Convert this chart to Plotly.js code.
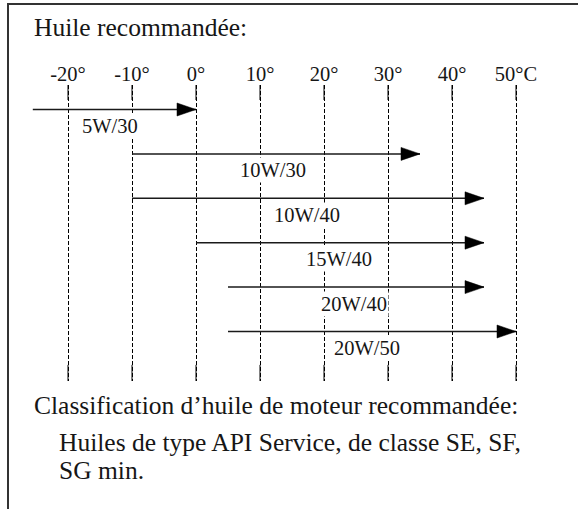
<!DOCTYPE html>
<html>
<head>
<meta charset="utf-8">
<script src="https://cdn.plot.ly/plotly-3.0.1.min.js"></script>
<style>html,body{margin:0;padding:0;background:#fff;}#chart{width:578px;height:509px;}</style>
</head>
<body>
<div id="chart"></div>
<script>
// ---- data ----
const tempTicks = [-20, -10, 0, 10, 20, 30, 40, 50];
const tickLabels = ['-20°', '-10°', '0°', '10°', '20°', '30°', '40°', '50°C'];
const grades = ['5W/30', '10W/30', '10W/40', '15W/40', '20W/40', '20W/50'];
const tempFrom = [-25.5, -10, -10, 0, 5, 5];
const tempTo = [0, 35, 45, 45, 45, 50];
const labelAt = [-13.4, 12, 17.3, 22.3, 24.7, 26.7];
const titleText = 'Huile recommandée:';
const noteLines = [
  'Classification d’huile de moteur recommandée:',
  'Huiles de type API Service, de classe SE, SF,',
  'SG min.'
];

// ---- layout helpers ----
const W = 578, H = 509;
const plotTop = 85, plotBottom = 381;
const rowTop = -0.552, rowBottom = 6.115;
const serif = 'Liberation Serif';
const ink = '#161616';
const py = p => (plotBottom - p) / (plotBottom - plotTop); // pixel -> paper y

const xs = [], ys = [];
grades.forEach((g, i) => { xs.push(tempFrom[i], tempTo[i], null); ys.push(i, i, null); });

const traces = [{
  type: 'scatter', mode: 'lines', x: xs, y: ys,
  line: {color: '#1a1a1a', width: 1.5}, hoverinfo: 'skip', showlegend: false
}];

const shapes = [];
// arrowheads
grades.forEach((g, i) => {
  shapes.push({
    type: 'path', xref: 'x', yref: 'y', xsizemode: 'pixel', ysizemode: 'pixel',
    xanchor: tempTo[i], yanchor: i,
    path: 'M0,0 L-19,6.5 L-19,-6.5 Z',
    fillcolor: '#000', line: {color: '#000', width: 0.5}
  });
});
// solid ends of the gridlines
tempTicks.forEach(t => {
  shapes.push({type: 'line', xref: 'x', yref: 'y', x0: t, x1: t, y0: rowTop, y1: -0.214, line: {color: '#000', width: 1}, layer: 'below'});
  shapes.push({type: 'line', xref: 'x', yref: 'y', x0: t, x1: t, y0: 5.752, y1: rowBottom, line: {color: '#000', width: 1}, layer: 'below'});
});
// frame (top and left)
shapes.push({type: 'line', xref: 'paper', yref: 'paper', x0: 8 / W, x1: 1.01, y0: py(4), y1: py(4), line: {color: '#333', width: 2}});
shapes.push({type: 'line', xref: 'paper', yref: 'paper', x0: 8 / W, x1: 8 / W, y0: py(3), y1: py(512), line: {color: '#333', width: 2}});

const annotations = grades.map((g, i) => ({
  x: labelAt[i], y: i + 0.37, xref: 'x', yref: 'y', text: g, showarrow: false,
  font: {family: serif, size: 20.5, color: ink}, bgcolor: '#fff', borderpad: 1,
  xanchor: 'center', yanchor: 'middle'
}));
const noteY = [405, 442, 470];
const noteX = [32, 57, 57];
noteLines.forEach((t, i) => annotations.push({
  x: noteX[i] / W, y: py(noteY[i]), xref: 'paper', yref: 'paper', text: t, showarrow: false,
  font: {family: serif, size: 25.5, color: ink}, xanchor: 'left', yanchor: 'middle', align: 'left'
}));

const layout = {
  width: W, height: H,
  font: {family: serif, color: ink},
  margin: {l: 0, r: 0, t: plotTop, b: H - plotBottom, pad: 0},
  paper_bgcolor: '#fff', plot_bgcolor: '#fff',
  title: {text: titleText, x: 34 / W, xanchor: 'left', xref: 'container', y: 1 - 27 / H, yref: 'container', yanchor: 'middle',
          font: {family: serif, size: 25.5, color: ink}},
  xaxis: {
    range: [-196 / 6.4, (W - 196) / 6.4], side: 'top',
    tickmode: 'array', tickvals: tempTicks, ticktext: tickLabels, ticks: '', ticklabelstandoff: -1,
    tickfont: {family: serif, size: 20.5, color: ink},
    showgrid: true, gridcolor: '#000', gridwidth: 1, griddash: '4px,2px',
    zeroline: false, showline: false, fixedrange: true
  },
  yaxis: {range: [rowBottom, rowTop], showgrid: false, zeroline: false, showticklabels: false, showline: false, fixedrange: true},
  shapes: shapes, annotations: annotations, showlegend: false
};

Plotly.newPlot('chart', traces, layout, {staticPlot: true, displayModeBar: false});
</script>
</body>
</html>
